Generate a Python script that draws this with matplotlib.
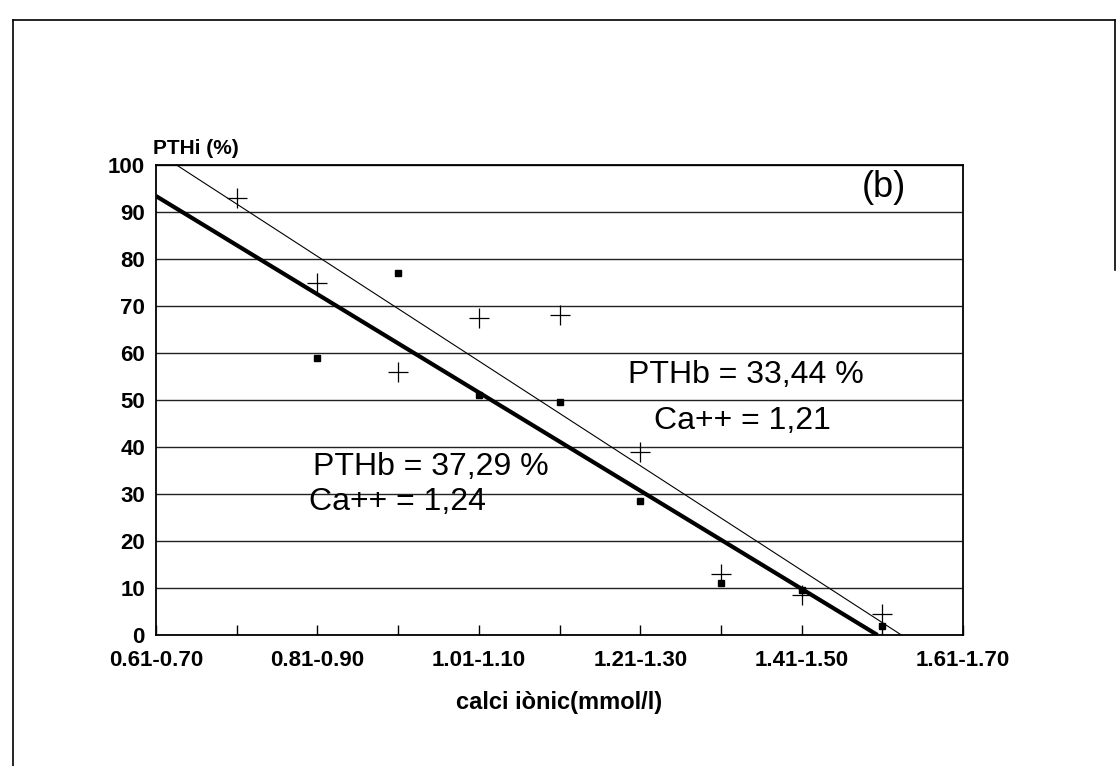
import numpy as np
import matplotlib
matplotlib.use('Agg')
import matplotlib.pyplot as plt
from matplotlib.lines import Line2D

# Categories of ionic calcium (mmol/l); only every second one is labelled
categories = ['0.61-0.70', '0.71-0.80', '0.81-0.90', '0.91-1.00', '1.01-1.10',
              '1.11-1.20', '1.21-1.30', '1.31-1.40', '1.41-1.50', '1.51-1.60',
              '1.61-1.70']

# Series (PTHi %)
cross_cats = ['0.71-0.80', '0.81-0.90', '0.91-1.00', '1.01-1.10', '1.11-1.20',
              '1.21-1.30', '1.31-1.40', '1.41-1.50', '1.51-1.60']
cross_vals = [93, 75, 56, 67.5, 68, 39, 13, 8.5, 4.5]

square_cats = ['0.81-0.90', '0.91-1.00', '1.01-1.10', '1.11-1.20',
               '1.21-1.30', '1.31-1.40', '1.41-1.50', '1.51-1.60']
square_vals = [59, 77, 51, 49.5, 28.5, 11, 9.5, 2]

yticks = [0, 10, 20, 30, 40, 50, 60, 70, 80, 90, 100]

plt.rcParams['font.family'] = ['Liberation Sans', 'DejaVu Sans']

W, H = 1119, 766
fig = plt.figure(figsize=(W / 100, H / 100), dpi=100)
ax = fig.add_axes([156 / W, 1 - 635 / H, (963 - 156) / W, (635 - 165) / H])

xc = np.array([categories.index(c) for c in cross_cats])
xs = np.array([categories.index(c) for c in square_cats])

# Regression lines, drawn from the left edge down to where they meet zero
for xx, yy, lw in [(xc, cross_vals, 0.8), (xs, square_vals, 3.0)]:
    slope, icpt = np.polyfit(xx, yy, 1)
    xend = -icpt / slope
    ax.plot([0, xend], [icpt, 0], color='black', lw=lw, solid_capstyle='butt', zorder=3)

ax.plot(xc, cross_vals, linestyle='none', marker='+', markersize=15,
        markeredgewidth=0.9, color='black', zorder=4)
ax.plot(xs, square_vals, linestyle='none', marker='s', markersize=3.8,
        color='black', zorder=4)

ax.set_xlim(0, len(categories) - 1)
ax.set_ylim(0, 100)
ax.set_xticks(range(len(categories)))
ax.set_xticklabels([c if i % 2 == 0 else '' for i, c in enumerate(categories)],
                   fontsize=16, fontweight='bold')
ax.set_yticks(yticks)
ax.set_yticklabels([str(v) for v in yticks], fontsize=16, fontweight='bold')
ax.tick_params(axis='x', direction='in', length=7, width=1, pad=11)
ax.tick_params(axis='y', length=0, pad=8)
ax.yaxis.grid(True, color='#222222', lw=1.0)
ax.set_axisbelow(True)
for s in ax.spines.values():
    s.set_linewidth(1.3)

ax.set_xlabel('calci iònic(mmol/l)', fontsize=17, fontweight='bold', labelpad=14)
ax.text(-0.04, 101.5, 'PTHi (%)', fontsize=15, fontweight='bold',
        ha='left', va='bottom')

ax.text(8.75, 95.3, '(b)', fontsize=26, ha='left', va='center')
ax.text(5.85, 55.3, 'PTHb = 33,44 %', fontsize=23, ha='left', va='center')
ax.text(6.17, 45.5, 'Ca++ = 1,21', fontsize=23, ha='left', va='center')
ax.text(1.94, 35.7, 'PTHb = 37,29 %', fontsize=23, ha='left', va='center')
ax.text(1.90, 28.3, 'Ca++ = 1,24', fontsize=23, ha='left', va='center')

# Scanned page frame
def px(x, y):
    return x / W, 1 - y / H

for (x0, y0), (x1, y1) in [((13, 20), (1115, 20)), ((13, 20), (13, 766)),
                           ((1115, 20), (1115, 270))]:
    a, b = px(x0, y0)
    c, d = px(x1, y1)
    fig.add_artist(Line2D([a, c], [b, d], color='black', lw=1.2))

fig.savefig('out.png', dpi=100)
